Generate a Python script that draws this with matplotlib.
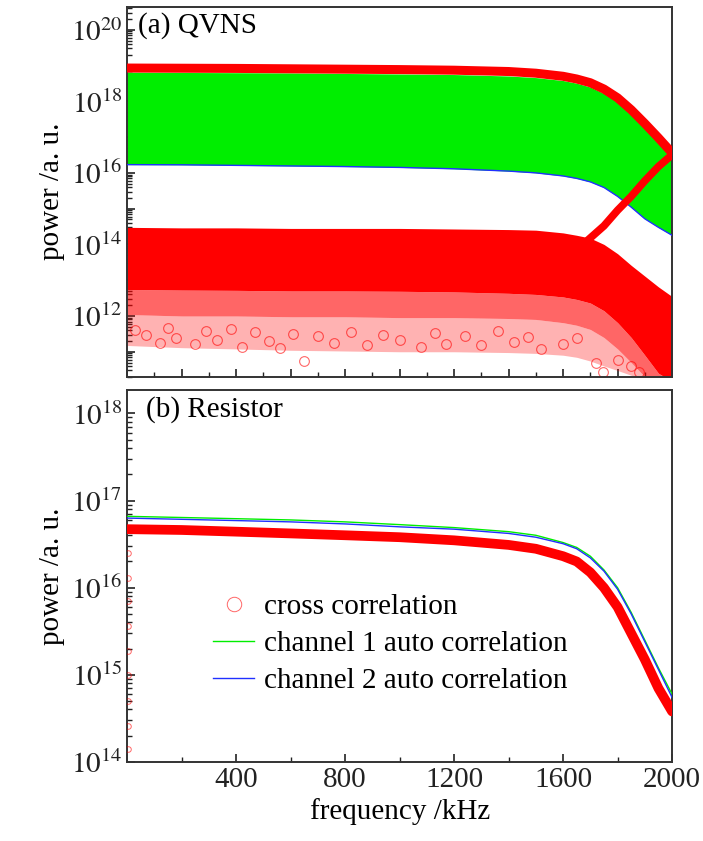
import math

import matplotlib.pyplot as plt
from matplotlib.ticker import MultipleLocator, LogLocator, FuncFormatter, NullFormatter

# ---- (a) QVNS ----
freq_a = [0, 200, 400, 600, 800, 1000, 1200, 1400, 1500, 1600, 1650,
          1700, 1750, 1800, 1850, 1900, 1950, 2000]
# cross correlation, upper branch
cross_a_top = [8.5e18, 8.4e18, 8.3e18, 8.1e18, 7.9e18, 7.7e18, 7.4e18, 6.8e18,
               6.1e18, 5.0e18, 4.2e18, 3.3e18, 2.2e18, 1.25e18, 5.8e17,
               2.4e17, 9.5e16, 3.6e16]
# channel 1 auto correlation, envelope of the oscillation
ch1_a_hi = [6.5e18, 6.4e18, 6.3e18, 6.2e18, 6.0e18, 5.8e18, 5.6e18, 5.1e18,
            4.6e18, 3.8e18, 3.2e18, 2.5e18, 1.65e18, 9.5e17, 4.4e17,
            1.8e17, 7.2e16, 3.0e16]
ch1_a_lo = [1.7e16, 1.68e16, 1.62e16, 1.56e16, 1.5e16, 1.42e16, 1.3e16,
            1.12e16, 1.0e16, 8.2e15, 7.0e15, 5.6e15, 3.9e15, 2.2e15, 1.1e15,
            5.2e14, 3.0e14, 1.8e14]
ch2_a = ch1_a_lo
# cross correlation, noise cloud
cloud_top = [3.0e14, 2.9e14, 2.9e14, 2.8e14, 2.8e14, 2.8e14, 2.7e14, 2.6e14,
             2.5e14, 2.1e14, 1.8e14, 1.5e14, 1.0e14, 5.5e13, 2.6e13,
             1.3e13, 6.5e12, 3.5e12]
cloud_dense = [5.5e12, 5.3e12, 5.2e12, 5.0e12, 5.0e12, 4.9e12, 4.7e12,
               4.3e12, 4.0e12, 3.4e12, 2.9e12, 2.3e12, 1.4e12, 6.5e11,
               2.5e11, 8.0e10, 2.5e10, 1.5e10]
cloud_mid = [1.1e12, 1.0e12, 1.0e12, 9.5e11, 9.5e11, 9.0e11, 9.0e11, 8.5e11,
             8.0e11, 6.5e11, 5.5e11, 4.2e11, 2.5e11, 1.2e11, 5.0e10,
             2.0e10, 1.5e10, 1.5e10]
cloud_sparse = [1.5e11, 1.3e11, 1.2e11, 1.1e11, 1.05e11, 1.0e11, 1.0e11,
                9.5e10, 9.0e10, 8.0e10, 7.0e10, 5.5e10, 4.0e10, 3.0e10,
                2.2e10, 1.5e10, 1.5e10, 1.5e10]
# cross correlation, rising branch above the cloud
rise_f = [1690, 1750, 1800, 1850, 1900, 1950, 2000]
rise_v = [1.3e14, 3.3e14, 9.0e14, 2.2e15, 6.0e15, 1.5e16, 3.2e16]
# scattered low outliers
out_f = [30, 70, 120, 150, 180, 250, 290, 330, 380, 420, 470, 520, 560, 610,
         650, 700, 760, 820, 880, 940, 1000, 1080, 1130, 1170, 1240, 1300,
         1360, 1420, 1470, 1520, 1600, 1650, 1720, 1745, 1800, 1850, 1880]
out_v = [4.0e11, 3.0e11, 1.8e11, 4.5e11, 2.5e11, 1.6e11, 3.8e11, 2.2e11,
         4.2e11, 1.4e11, 3.5e11, 2.0e11, 1.3e11, 3.2e11, 5.4e10, 2.8e11,
         1.8e11, 3.6e11, 1.5e11, 2.9e11, 2.1e11, 1.4e11, 3.3e11, 1.7e11,
         2.7e11, 1.5e11, 3.9e11, 1.9e11, 2.6e11, 1.2e11, 1.6e11, 2.4e11,
         5.0e10, 2.8e10, 6.0e10, 4.0e10, 2.8e10]

# ---- (b) Resistor ----
freq_b = [0, 200, 400, 600, 800, 1000, 1200, 1400, 1500, 1600, 1650,
          1700, 1750, 1800, 1850, 1900, 1950, 2000]
cross_b = [4.7e16, 4.6e16, 4.4e16, 4.2e16, 4.0e16, 3.8e16, 3.5e16, 3.1e16,
           2.8e16, 2.3e16, 2.0e16, 1.5e16, 1.0e16, 6.0e15, 3.0e15, 1.5e15,
           7.0e14, 3.8e14]
ch1_b = [6.6e16, 6.4e16, 6.2e16, 6.0e16, 5.7e16, 5.3e16, 4.9e16, 4.4e16,
         4.0e16, 3.3e16, 2.9e16, 2.3e16, 1.6e16, 1.0e16, 5.2e15, 2.5e15,
         1.2e15, 6.0e14]
ch2_b = [6.3e16, 6.1e16, 5.9e16, 5.7e16, 5.4e16, 5.0e16, 4.7e16, 4.2e16,
         3.8e16, 3.2e16, 2.8e16, 2.2e16, 1.55e16, 9.6e15, 5.0e15, 2.4e15,
         1.15e15, 5.5e14]
# first bins of the cross correlation near 0 Hz
spike_f = [3, 3, 3, 3, 3, 3, 3, 3, 3]
spike_v = [2.5e16, 1.3e16, 7.0e15, 3.6e15, 1.9e15, 1.0e15, 5.0e14, 2.6e14,
           1.4e14]

RED = "#ff0000"
GREEN = "#00ee00"
BLUE = "#2030ff"


def log_label(step):
    def fmt(v, pos):
        e = int(round(math.log10(v)))
        if e % step:
            return ""
        return r"$10^{%d}$" % e
    return FuncFormatter(fmt)


def style_axis(ax):
    ax.set_axisbelow(True)
    for s in ax.spines.values():
        s.set_color("#333333")
        s.set_linewidth(1.4)
    ax.tick_params(which="both", direction="in", colors="#222222",
                   labelsize=21, top=False, right=False)
    ax.tick_params(which="major", length=6, width=1.2)
    ax.tick_params(which="minor", length=3.5, width=1.0)
    ax.yaxis.set_minor_locator(LogLocator(base=10, subs=range(2, 10), numticks=30))
    ax.yaxis.set_minor_formatter(NullFormatter())
    ax.yaxis.set_major_locator(LogLocator(base=10, numticks=30))


def main():
    plt.rcParams["font.family"] = "serif"
    plt.rcParams["font.serif"] = ["Liberation Serif", "DejaVu Serif"]
    plt.rcParams["mathtext.fontset"] = "stix"

    fig = plt.figure(figsize=(7.03, 8.41), dpi=100)
    ax1 = fig.add_axes([0.181, 0.552, 0.775, 0.440])
    ax2 = fig.add_axes([0.181, 0.094, 0.775, 0.442])

    # (a) QVNS
    ax1.fill_between(freq_a, cloud_sparse, cloud_mid, color=RED, alpha=0.3,
                     linewidth=0, zorder=2)
    ax1.fill_between(freq_a, cloud_mid, cloud_dense, color=RED, alpha=0.6,
                     linewidth=0, zorder=2)
    ax1.fill_between(freq_a, cloud_dense, cloud_top, color=RED, linewidth=0,
                     zorder=2)
    ax1.plot(out_f, out_v, "o", mfc="none", mec=RED, mew=0.8, ms=7,
             alpha=0.6, zorder=2)
    ax1.fill_between(freq_a, ch1_a_lo, ch1_a_hi, color=GREEN, linewidth=0,
                     zorder=2)
    ax1.plot(freq_a, ch2_a, color=BLUE, lw=1.0, zorder=3)
    ax1.plot(freq_a, cross_a_top, color=RED, lw=6.5, solid_capstyle="round",
             zorder=4)
    ax1.plot(rise_f, rise_v, color=RED, lw=5.5, solid_capstyle="round",
             zorder=4)

    ax1.set_yscale("log")
    ax1.set_xlim(0, 2000)
    ax1.set_ylim(2e10, 4.4e20)
    style_axis(ax1)
    ax1.yaxis.set_major_formatter(log_label(2))
    ax1.xaxis.set_major_locator(MultipleLocator(200))
    ax1.xaxis.set_minor_locator(MultipleLocator(100))
    ax1.tick_params(axis="x", labelbottom=False)
    ax1.set_ylabel("power /a. u.", fontsize=21, labelpad=4)
    ax1.text(0.02, 0.985, "(a) QVNS", transform=ax1.transAxes, fontsize=21,
             va="top", ha="left")

    # (b) Resistor
    ax2.plot(freq_b, ch1_b, color=GREEN, lw=1.0, zorder=3,
             label="channel 1 auto correlation")
    ax2.plot(freq_b, ch2_b, color=BLUE, lw=1.0, zorder=3,
             label="channel 2 auto correlation")
    ax2.plot(freq_b, cross_b, color=RED, lw=7, solid_capstyle="round",
             zorder=4)
    ax2.plot(spike_f, spike_v, "o", mfc="none", mec=RED, mew=0.7, ms=4,
             alpha=0.6, zorder=4, label="cross correlation")

    ax2.set_yscale("log")
    ax2.set_xlim(0, 2000)
    ax2.set_ylim(1e14, 1.85e18)
    style_axis(ax2)
    ax2.yaxis.set_major_formatter(log_label(1))
    ax2.xaxis.set_major_locator(MultipleLocator(400))
    ax2.xaxis.set_minor_locator(MultipleLocator(200))
    ax2.xaxis.set_major_formatter(
        FuncFormatter(lambda v, pos: "" if v == 0 else "%d" % v))
    ax2.set_xlabel("frequency /kHz", fontsize=21, labelpad=4)
    ax2.set_ylabel("power /a. u.", fontsize=21, labelpad=4)
    ax2.text(0.035, 0.985, "(b) Resistor", transform=ax2.transAxes,
             fontsize=21, va="top", ha="left")

    handles, labels = ax2.get_legend_handles_labels()
    order = [2, 0, 1]
    ax2.legend([handles[i] for i in order], [labels[i] for i in order],
               loc="center left", bbox_to_anchor=(0.158, 0.317),
               frameon=False, fontsize=21, markerscale=2.6,
               handlelength=1.4, handletextpad=0.35, labelspacing=0.36,
               borderpad=0, borderaxespad=0)

    fig.savefig("out.png", dpi=100)


if __name__ == "__main__":
    main()
